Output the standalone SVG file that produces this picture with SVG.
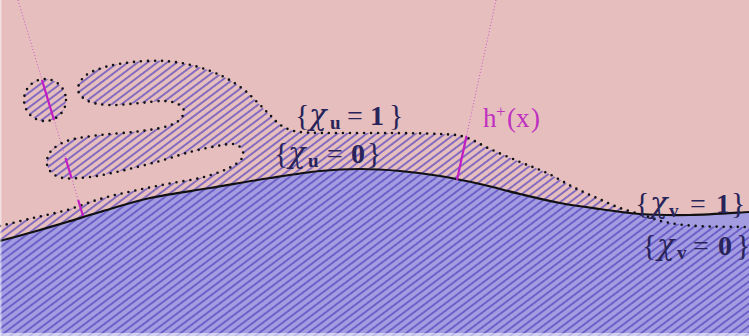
<svg xmlns="http://www.w3.org/2000/svg" width="749" height="336" viewBox="0 0 749 336">
<defs>
<pattern id="hatch" patternUnits="userSpaceOnUse" width="20" height="5.9" patternTransform="rotate(-37)">
<line x1="-1" y1="2.95" x2="21" y2="2.95" stroke="#5040c0" stroke-width="1.3"/>
</pattern>
<path id="vcurve" d="M0,241 C5.5,239.5 21.8,235.2 33,232 S55.8,225.3 67,222 S86.2,216 100,212 S131.7,202 150,198 S190,191.3 210,188 S251.7,180.8 270,178 S305,172.5 320,171 S346.7,169 360,169 S386.7,169.8 400,171 S426.7,173.8 440,176 S466.7,181 480,184 S506.7,190.8 520,194 S546.7,200.5 560,203 S586.7,207.2 600,209 S625,213 640,214 S671.8,215.3 690,215 S739.2,212.5 749,212"/>
<path id="ucurve" d="M0,226 C5.5,224.7 21.8,220.7 33,218 S55.8,213.2 67,210 S89,202.2 100,199 S121.8,193.5 133,191 S155.8,186.2 167,184 S190.8,180.2 200,178 S216,173.3 222,171 S232.5,166.5 236,164 S242.2,158.7 243,156 S242.7,150 241,148 S237,144.3 233,144 S224.2,144.7 217,146 S199.5,149.5 190,152 S170.8,158 160,161 S136.7,167.3 125,170 S100.3,175.7 90,177 S69.7,179 63,178 S52.7,174 50,171 S46.5,163.7 47,160 S49.2,152.3 53,149 S62.2,142.3 70,140 S89.5,136.3 100,135 S123,133.2 133,132 S152.7,129.7 160,128 S173,124.7 177,122 S183.8,115 184,112 S181.5,105.8 178,104 S169.3,101.2 163,101 S148.8,102.3 140,103 S118.7,105.3 110,105 S93.3,103.5 88,101 S78.5,94.2 78,90 S80.5,79.8 85,76 S97,69.3 105,67 S123,63 133,62 S154.7,60.3 165,61 S185.5,63.5 195,66 S214,72.2 222,76 S237,84.5 243,89 S253.5,98.7 258,103 S266,111.2 270,115 S277,123.2 282,126 S290.3,130.8 300,132 S325,132.8 340,133 S373.3,132.8 390,133 S427.5,133.3 440,134 S456.7,134.5 465,137 S480.8,144.8 490,149 S510.5,158 520,162 S538.2,168.8 547,173 S564.7,182.8 573,187 S589.2,194.5 597,198 S612.3,205.2 620,208 S635.5,212.7 643,215 S656,220.2 665,222 S683,225.2 697,226 S740.3,226.8 749,227"/>
</defs>
<style>
.dots{fill:none;stroke:#111;stroke-width:2.6;stroke-linecap:round;stroke-dasharray:0 7}
.ray{fill:none;stroke:#cc55cc;stroke-width:1;stroke-dasharray:1 2.2}
.seg{fill:none;stroke:#c21cc4;stroke-width:2.2}
.lbl{font-family:"Liberation Serif","DejaVu Serif",serif;font-size:28px;fill:#28245a}
.chi{font-family:"DejaVu Serif","Liberation Serif",serif;font-style:italic;font-size:29px}
.bd{font-weight:bold}
.sub{font-size:19px;font-weight:bold}
.br{font-size:30px}
.mg{fill:#c030c0;font-size:27px}
</style>
<g id="background">
<rect x="0" y="0" width="749" height="336" fill="#e6bebe"/>
</g>
<g id="region-v">
<path d="M0,241 C5.5,239.5 21.8,235.2 33,232 S55.8,225.3 67,222 S86.2,216 100,212 S131.7,202 150,198 S190,191.3 210,188 S251.7,180.8 270,178 S305,172.5 320,171 S346.7,169 360,169 S386.7,169.8 400,171 S426.7,173.8 440,176 S466.7,181 480,184 S506.7,190.8 520,194 S546.7,200.5 560,203 S586.7,207.2 600,209 S625,213 640,214 S671.8,215.3 690,215 S739.2,212.5 749,212 L749,336 L0,336 Z" fill="#a39ce0"/>
</g>
<g id="region-u">
<path d="M0,226 C5.5,224.7 21.8,220.7 33,218 S55.8,213.2 67,210 S89,202.2 100,199 S121.8,193.5 133,191 S155.8,186.2 167,184 S190.8,180.2 200,178 S216,173.3 222,171 S232.5,166.5 236,164 S242.2,158.7 243,156 S242.7,150 241,148 S237,144.3 233,144 S224.2,144.7 217,146 S199.5,149.5 190,152 S170.8,158 160,161 S136.7,167.3 125,170 S100.3,175.7 90,177 S69.7,179 63,178 S52.7,174 50,171 S46.5,163.7 47,160 S49.2,152.3 53,149 S62.2,142.3 70,140 S89.5,136.3 100,135 S123,133.2 133,132 S152.7,129.7 160,128 S173,124.7 177,122 S183.8,115 184,112 S181.5,105.8 178,104 S169.3,101.2 163,101 S148.8,102.3 140,103 S118.7,105.3 110,105 S93.3,103.5 88,101 S78.5,94.2 78,90 S80.5,79.8 85,76 S97,69.3 105,67 S123,63 133,62 S154.7,60.3 165,61 S185.5,63.5 195,66 S214,72.2 222,76 S237,84.5 243,89 S253.5,98.7 258,103 S266,111.2 270,115 S277,123.2 282,126 S290.3,130.8 300,132 S325,132.8 340,133 S373.3,132.8 390,133 S427.5,133.3 440,134 S456.7,134.5 465,137 S480.8,144.8 490,149 S510.5,158 520,162 S538.2,168.8 547,173 S564.7,182.8 573,187 S589.2,194.5 597,198 S612.3,205.2 620,208 S635.5,212.7 643,215 S656,220.2 665,222 S683,225.2 697,226 S740.3,226.8 749,227 L749,336 L0,336 Z" fill="url(#hatch)"/>
<circle cx="45" cy="100" r="21" fill="url(#hatch)"/>
</g>
<g id="boundaries">
<use href="#vcurve" fill="none" stroke="#111" stroke-width="2.2"/>
<use href="#ucurve" class="dots"/>
<circle cx="45" cy="100" r="21" class="dots"/>
</g>
<g id="h-plus">
<line x1="18" y1="0" x2="83" y2="216" class="ray"/>
<line x1="42" y1="80" x2="54" y2="120" class="seg"/>
<line x1="65.5" y1="158" x2="71.5" y2="178" class="seg"/>
<line x1="78.2" y1="200" x2="83" y2="216" class="seg"/>
<line x1="496" y1="0" x2="466.5" y2="136" class="ray"/>
<line x1="466.5" y1="136" x2="457" y2="180" class="seg"/>
</g>
<g id="labels">
<text class="lbl"><tspan class="br" x="295" y="125">{</tspan><tspan class="chi" x="309" y="125">χ</tspan><tspan class="sub" x="330" y="129">u</tspan><tspan x="347" y="125">=</tspan><tspan class="bd" x="370" y="125">1</tspan><tspan class="br" x="389" y="125">}</tspan></text>
<text class="lbl"><tspan class="br" x="274" y="163">{</tspan><tspan class="chi" x="288" y="163">χ</tspan><tspan class="sub" x="308" y="167">u</tspan><tspan x="327" y="163">=</tspan><tspan class="bd" x="351" y="163">0</tspan><tspan class="br" x="367" y="163">}</tspan></text>
<text class="lbl mg"><tspan x="483" y="127">h</tspan><tspan font-size="17" x="496" y="117">+</tspan><tspan x="507" y="127">(</tspan><tspan x="516" y="127">x</tspan><tspan x="531" y="127">)</tspan></text>
<text class="lbl"><tspan class="br" x="635" y="213">{</tspan><tspan class="chi" x="650" y="213">χ</tspan><tspan class="sub" x="669" y="217">v</tspan><tspan x="690" y="213">=</tspan><tspan class="bd" x="716" y="213">1</tspan><tspan class="br" x="731" y="213">}</tspan></text>
<text class="lbl"><tspan class="br" x="642" y="255">{</tspan><tspan class="chi" x="657" y="255">χ</tspan><tspan class="sub" x="677" y="259">v</tspan><tspan x="693" y="255">=</tspan><tspan class="bd" x="718" y="255">0</tspan><tspan class="br" x="736" y="255">}</tspan></text>
</g>
<g id="frame">
<rect x="0" y="0" width="1.5" height="336" fill="#ffffff" opacity="0.5"/>
<rect x="0" y="333" width="749" height="3" fill="#ffffff" opacity="0.55"/>
</g>
</svg>
